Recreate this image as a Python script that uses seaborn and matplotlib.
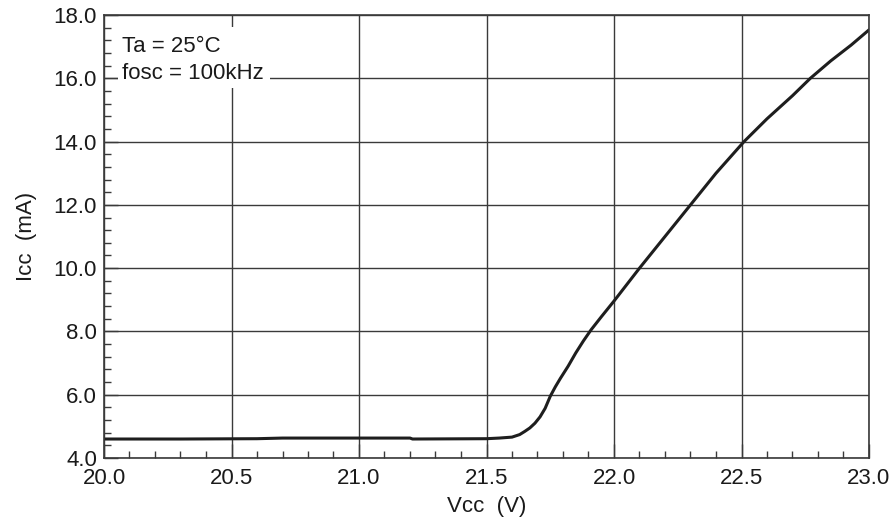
import matplotlib
matplotlib.use("Agg")
import matplotlib.pyplot as plt
import seaborn as sns
import pandas as pd
from matplotlib.ticker import MultipleLocator, FormatStrFormatter
from matplotlib.patches import Rectangle

vcc = [20.0, 20.3, 20.6, 20.7, 21.0, 21.2, 21.21, 21.5, 21.55, 21.6, 21.63, 21.65,
       21.67, 21.69, 21.71, 21.73, 21.75, 21.77, 21.79, 21.82, 21.85, 21.88, 21.91,
       21.95, 22.0, 22.05, 22.1, 22.2, 22.3, 22.4, 22.51, 22.6, 22.7, 22.77, 22.85,
       22.93, 23.0]
icc = [4.60, 4.60, 4.61, 4.63, 4.63, 4.63, 4.60, 4.61, 4.63, 4.66, 4.74, 4.84,
       4.95, 5.10, 5.30, 5.57, 5.95, 6.25, 6.52, 6.90, 7.32, 7.70, 8.05,
       8.46, 8.96, 9.48, 10.0, 11.0, 12.0, 13.0, 14.0, 14.72, 15.45, 16.0, 16.55,
       17.05, 17.53]
annot_lines = ["Ta = 25\u00b0C", "fosc = 100kHz"]
x_label = "Vcc  (V)"
y_label = "Icc  (mA)"

sns.set_style("white")
plt.rcParams['font.family'] = ['Liberation Sans', 'DejaVu Sans']

df = pd.DataFrame({"Vcc": vcc, "Icc": icc})

fig = plt.figure(figsize=(8.95, 5.31), dpi=100)
ax = fig.add_axes([104/895, 1-458/531, 765/895, 443/531])

sns.lineplot(data=df, x="Vcc", y="Icc", ax=ax, color="#1e1e1e", linewidth=2.2,
             sort=False, estimator=None)

ax.set_xlim(20.0, 23.0)
ax.set_ylim(4.0, 18.0)
ax.xaxis.set_major_locator(MultipleLocator(0.5))
ax.xaxis.set_minor_locator(MultipleLocator(0.1))
ax.yaxis.set_major_locator(MultipleLocator(2.0))
ax.yaxis.set_minor_locator(MultipleLocator(0.4))
ax.xaxis.set_major_formatter(FormatStrFormatter("%.1f"))
ax.yaxis.set_major_formatter(FormatStrFormatter("%.1f"))

ax.grid(True, which="major", color="#3a3a3a", linewidth=1.0)
ax.tick_params(which="both", direction="in", top=False, right=False,
               bottom=True, left=True, color="#3a3a3a")
ax.tick_params(which="major", length=10, width=1.0, labelsize=16, pad=5,
               labelcolor="#1a1a1a")
ax.tick_params(axis="x", which="major", pad=7.5)
ax.tick_params(which="minor", length=5, width=1.0)
for s in ax.spines.values():
    s.set_color("#3a3a3a")
    s.set_linewidth(1.2)

ax.set_xlabel(x_label, fontsize=16, color="#1a1a1a", labelpad=5)
ax.set_ylabel(y_label, fontsize=16, color="#1a1a1a", labelpad=12)

ax.add_patch(Rectangle((0.018, 0.835), 0.199, 0.138, transform=ax.transAxes,
                       facecolor="white", edgecolor="none", zorder=2.6))
ax.text(0.0235, 0.9165, annot_lines[0], transform=ax.transAxes, fontsize=16,
        color="#1a1a1a", zorder=3, va="baseline")
ax.text(0.0235, 0.8555, annot_lines[1], transform=ax.transAxes, fontsize=16,
        color="#1a1a1a", zorder=3, va="baseline")

fig.savefig("out.png", dpi=100)
